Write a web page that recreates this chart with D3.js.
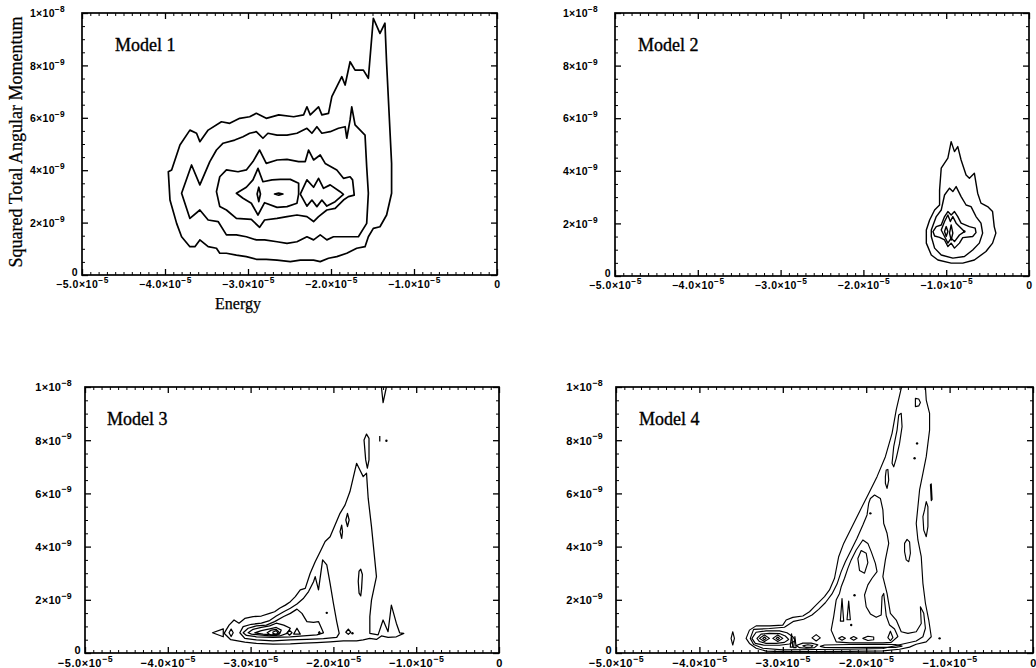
<!DOCTYPE html>
<html>
<head>
<meta charset="utf-8">
<script src="https://cdn.jsdelivr.net/npm/d3@7"></script>
<style>
  body { margin: 0; background: #fff; }
  .ticklab text { font-family: "Liberation Sans", Arial, sans-serif; font-weight: bold; fill: #000; }
  .serif { font-family: "Liberation Serif", "Times New Roman", serif; fill: #000; }
</style>
</head>
<body>
<div id="chart"></div>
<script>
// ---- axis ticks and labels ----
var energyTicks = [-5e-5, -4e-5, -3e-5, -2e-5, -1e-5, 0];
var energyMantissas = ["−5.0×10", "−4.0×10", "−3.0×10", "−2.0×10", "−1.0×10", "0"];
var energyExponents = ["−5", "−5", "−5", "−5", "−5", ""];
var momentumTicks = [0, 2e-9, 4e-9, 6e-9, 8e-9, 1e-8];
var momentumMantissas = ["0", "2×10", "4×10", "6×10", "8×10", "1×10"];
var momentumExponents = ["", "−9", "−9", "−9", "−9", "−8"];
var modelNames = ["Model 1", "Model 2", "Model 3", "Model 4"];

// ---- contour lines: [energy (1e-5), L^2 (1e-9)] ----
var model1Contours = [
  [[-3.96,3.94],[-3.92,4.01],[-3.82,4.96],[-3.70,5.53],[-3.62,5.41],[-3.58,5.09],[-3.48,5.53],[-3.32,5.85],[-3.22,5.79],[-3.10,5.98],[-2.98,6.04],[-2.90,6.17],[-2.78,5.98],[-2.63,6.11],[-2.45,6.04],[-2.33,6.11],[-2.29,6.42],[-2.25,6.11],[-2.15,6.42],[-2.11,6.11],[-2.03,6.17],[-1.99,6.81],[-1.87,7.57],[-1.83,7.25],[-1.77,8.14],[-1.71,7.82],[-1.61,7.82],[-1.55,7.51],[-1.49,9.80],[-1.41,9.22],[-1.35,9.61],[-1.33,8.08],[-1.27,4.26],[-1.27,3.12],[-1.33,2.29],[-1.41,1.84],[-1.49,1.78],[-1.55,1.46],[-1.59,1.08],[-1.69,1.02],[-1.81,0.83],[-1.93,0.70],[-2.03,0.64],[-2.13,0.51],[-2.21,0.57],[-2.37,0.57],[-2.49,0.51],[-2.65,0.57],[-2.78,0.60],[-2.90,0.60],[-3.02,0.70],[-3.14,0.76],[-3.26,0.83],[-3.34,0.83],[-3.38,1.02],[-3.48,1.08],[-3.58,1.34],[-3.64,1.08],[-3.70,1.08],[-3.80,1.46],[-3.86,1.97],[-3.94,2.86]],
  [[-3.80,3.12],[-3.68,4.20],[-3.58,3.44],[-3.46,4.33],[-3.38,4.77],[-3.30,5.03],[-3.16,5.15],[-3.06,5.28],[-2.98,5.41],[-2.90,5.47],[-2.82,5.22],[-2.76,5.41],[-2.65,5.34],[-2.53,5.34],[-2.41,5.41],[-2.29,5.60],[-2.23,5.41],[-2.17,5.66],[-2.11,5.41],[-2.01,5.47],[-1.91,5.60],[-1.83,5.66],[-1.81,5.22],[-1.77,5.92],[-1.75,6.42],[-1.71,5.73],[-1.59,5.34],[-1.57,4.13],[-1.55,3.12],[-1.57,1.97],[-1.67,1.46],[-1.81,1.46],[-1.97,1.46],[-2.05,1.34],[-2.13,1.53],[-2.21,1.34],[-2.29,1.46],[-2.41,1.27],[-2.53,1.21],[-2.65,1.27],[-2.80,1.34],[-2.90,1.34],[-3.02,1.46],[-3.14,1.53],[-3.26,1.53],[-3.36,2.04],[-3.48,2.10],[-3.58,2.48],[-3.70,2.16]],
  [[-3.38,3.18],[-3.34,3.75],[-3.26,4.01],[-3.12,3.94],[-3.02,4.01],[-2.94,4.33],[-2.86,4.77],[-2.78,4.26],[-2.65,4.39],[-2.53,4.41],[-2.39,4.33],[-2.31,4.33],[-2.27,4.77],[-2.21,4.39],[-2.13,4.58],[-2.07,4.26],[-1.93,4.01],[-1.85,3.69],[-1.77,3.75],[-1.74,3.63],[-1.72,3.05],[-1.79,2.99],[-1.85,2.86],[-1.95,2.54],[-2.05,2.48],[-2.15,2.23],[-2.21,2.04],[-2.29,2.23],[-2.41,2.29],[-2.53,2.23],[-2.65,2.16],[-2.80,2.10],[-2.86,1.82],[-2.96,2.12],[-3.14,2.16],[-3.26,2.48],[-3.34,2.61]],
  [[-3.14,3.12],[-3.02,3.35],[-2.94,3.63],[-2.88,4.07],[-2.82,3.56],[-2.71,3.63],[-2.61,3.65],[-2.49,3.65],[-2.39,3.50],[-2.39,3.09],[-2.41,2.74],[-2.53,2.61],[-2.65,2.58],[-2.80,2.76],[-2.88,2.29],[-2.96,2.74],[-3.06,2.93]],
  [[-2.37,3.09],[-2.29,3.63],[-2.21,3.35],[-2.15,3.69],[-2.09,3.31],[-2.01,3.44],[-1.89,3.18],[-1.85,3.08],[-1.95,2.80],[-2.05,2.63],[-2.11,2.86],[-2.17,2.61],[-2.23,2.86],[-2.29,2.63]],
  [[-2.89,3.09],[-2.87,3.35],[-2.85,3.09],[-2.87,2.80]],
  [[-2.68,3.09],[-2.63,3.13],[-2.58,3.09],[-2.63,3.05]]
];

var model2Contours = [
  [[-0.94,5.11],[-0.90,4.73],[-0.86,4.92],[-0.82,4.41],[-0.76,3.84],[-0.72,3.72],[-0.66,3.91],[-0.62,3.15],[-0.58,2.77],[-0.50,2.64],[-0.44,2.45],[-0.42,1.88],[-0.40,1.63],[-0.44,1.25],[-0.52,0.93],[-0.66,0.61],[-0.80,0.49],[-0.94,0.49],[-1.10,0.61],[-1.18,0.80],[-1.24,1.25],[-1.24,1.75],[-1.20,2.13],[-1.14,2.51],[-1.08,2.70],[-1.08,3.27],[-1.06,4.10],[-0.98,4.48]],
  [[-1.18,1.75],[-1.12,2.26],[-1.06,2.51],[-1.02,3.08],[-0.96,3.34],[-0.92,3.21],[-0.88,3.40],[-0.82,3.02],[-0.76,2.70],[-0.70,2.64],[-0.64,2.26],[-0.58,2.01],[-0.56,1.63],[-0.60,1.25],[-0.68,0.99],[-0.78,0.74],[-0.92,0.68],[-1.06,0.80],[-1.14,1.06],[-1.18,1.50]],
  [[-1.16,1.69],[-1.12,1.88],[-1.06,1.94],[-1.02,2.26],[-0.98,2.45],[-0.94,2.32],[-0.90,2.45],[-0.86,2.26],[-0.82,2.01],[-0.72,1.88],[-0.65,1.82],[-0.64,1.65],[-0.68,1.50],[-0.80,1.46],[-0.84,1.25],[-0.90,1.06],[-0.94,1.25],[-0.98,1.12],[-1.02,1.37],[-1.08,1.47],[-1.14,1.52]],
  [[-1.06,1.75],[-1.02,2.07],[-0.98,2.32],[-0.95,2.07],[-0.92,2.26],[-0.88,2.01],[-0.82,1.82],[-0.78,1.69],[-0.84,1.56],[-0.90,1.31],[-0.94,1.44],[-0.98,1.25],[-1.02,1.50]],
  [[-1.00,1.88],[-0.98,1.69],[-1.00,1.50],[-1.02,1.69]],
  [[-0.94,1.94],[-0.92,1.63],[-0.94,1.37],[-0.96,1.63]]
];
var model2Dots = [[-0.78,1.69]];

var model3Contours = [
  [[-3.32,0.74],[-3.26,1.05],[-3.20,1.24],[-3.14,1.12],[-3.07,1.30],[-2.97,1.37],[-2.87,1.39],[-2.77,1.49],[-2.71,1.55],[-2.65,1.68],[-2.58,1.80],[-2.52,1.93],[-2.46,2.12],[-2.40,2.37],[-2.34,2.43],[-2.28,3.00],[-2.22,3.43],[-2.16,3.81],[-2.10,4.19],[-2.04,4.37],[-1.98,4.81],[-1.92,5.25],[-1.86,5.56],[-1.80,6.07],[-1.72,7.13],[-1.68,6.88],[-1.64,6.63],[-1.60,6.76],[-1.58,5.82],[-1.54,4.75],[-1.48,2.87],[-1.54,1.99],[-1.56,1.37],[-1.56,0.74],[-1.46,0.68],[-1.40,1.24],[-1.34,0.80],[-1.30,1.80],[-1.24,1.12],[-1.20,0.76],[-1.15,0.74],[-1.24,0.61],[-1.34,0.59],[-1.42,0.64],[-1.48,0.51],[-1.56,0.55],[-1.64,0.49],[-1.72,0.46],[-1.88,0.46],[-2.04,0.42],[-2.20,0.39],[-2.36,0.37],[-2.52,0.34],[-2.73,0.33],[-2.93,0.36],[-3.07,0.41],[-3.24,0.50]],
  [[-3.13,0.76],[-3.09,0.99],[-2.99,1.08],[-2.87,1.12],[-2.77,1.22],[-2.69,1.39],[-2.60,1.55],[-2.52,1.68],[-2.44,1.84],[-2.36,2.06],[-2.30,2.31],[-2.24,2.68],[-2.22,2.87],[-2.18,2.37],[-2.13,3.50],[-2.08,3.31],[-2.04,2.62],[-2.00,1.87],[-1.96,1.18],[-1.93,0.74],[-1.96,0.59],[-2.12,0.54],[-2.32,0.51],[-2.52,0.49],[-2.73,0.46],[-2.93,0.49],[-3.07,0.55]],
  [[-3.09,0.76],[-3.03,0.93],[-2.93,1.02],[-2.81,1.05],[-2.71,1.18],[-2.60,1.37],[-2.52,1.49],[-2.44,1.65],[-2.38,1.49],[-2.32,1.18],[-2.24,1.15],[-2.18,1.18],[-2.12,0.76],[-2.20,0.68],[-2.36,0.64],[-2.52,0.61],[-2.73,0.59],[-2.93,0.61],[-3.05,0.66]],
  [[-3.03,0.76],[-2.97,0.89],[-2.87,0.96],[-2.77,1.02],[-2.69,1.12],[-2.60,1.05],[-2.52,0.93],[-2.56,0.74],[-2.65,0.64],[-2.77,0.64],[-2.89,0.68],[-2.99,0.71]],
  [[-2.95,0.76],[-2.87,0.84],[-2.77,0.91],[-2.69,0.96],[-2.63,0.86],[-2.65,0.71],[-2.75,0.68],[-2.85,0.71]],
  [[-2.80,0.76],[-2.75,0.86],[-2.69,0.89],[-2.65,0.76],[-2.69,0.66],[-2.75,0.66]],
  [[-2.73,0.79],[-2.69,0.84],[-2.67,0.76],[-2.69,0.70],[-2.73,0.74]],
  [[-3.46,0.76],[-3.33,0.91],[-3.33,0.61]],
  [[-3.26,0.76],[-3.235,0.90],[-3.21,0.76],[-3.235,0.62]],
  [[-2.56,0.76],[-2.53,0.85],[-2.50,0.76],[-2.53,0.67]],
  [[-2.48,0.71],[-2.44,0.93],[-2.40,0.71]],
  [[-2.18,0.76],[-2.17,0.80],[-2.16,0.76],[-2.17,0.72]],
  [[-1.85,5.00],[-1.83,5.25],[-1.81,5.00],[-1.83,4.75]],
  [[-1.92,4.56],[-1.90,4.81],[-1.89,4.56],[-1.90,4.31]],
  [[-1.70,2.70],[-1.69,3.08],[-1.67,3.15],[-1.65,2.95],[-1.66,2.40],[-1.67,2.15],[-1.69,2.25]],
  [[-1.85,0.78],[-1.82,0.90],[-1.79,0.78],[-1.82,0.70]],
  [[-1.63,8.01],[-1.60,8.23],[-1.57,8.07],[-1.57,7.26],[-1.59,6.95],[-1.61,7.26]]
];
var model3Open = [
  [[-1.42,10.0],[-1.40,9.41],[-1.36,10.0]],
  [[-1.44,8.16],[-1.44,7.95]]
];
var model3Dots = [[-2.08,1.51],[-1.77,0.74],[-1.36,7.98]];

var model4Contours = [
  [[-3.39,0.55],[-3.35,0.89],[-3.16,0.92],[-2.98,0.97],[-2.87,1.19],[-2.75,1.27],[-2.65,1.43],[-2.57,1.64],[-2.49,1.89],[-2.41,2.22],[-2.35,2.59],[-2.30,3.06],[-2.25,3.43],[-2.19,3.81],[-2.11,4.31],[-2.04,4.81],[-1.99,5.19],[-1.97,5.63],[-1.95,5.81],[-1.90,5.94],[-1.83,5.81],[-1.80,5.38],[-1.79,4.87],[-1.75,4.50],[-1.73,4.12],[-1.77,3.50],[-1.80,2.87],[-1.75,2.24],[-1.71,1.49],[-1.64,1.24],[-1.58,0.80],[-1.50,0.74],[-1.40,0.80],[-1.34,1.11],[-1.35,1.74],[-1.31,1.49],[-1.29,0.93],[-1.32,0.61],[-1.40,0.45],[-1.80,0.17],[-2.20,0.14],[-2.60,0.13],[-3.00,0.12],[-3.24,0.18],[-3.35,0.32]],
  [[-2.26,2.81],[-2.22,3.18],[-2.18,3.50],[-2.12,3.87],[-2.04,4.25],[-1.98,4.12],[-1.94,3.81],[-1.89,3.37],[-1.87,3.06],[-1.93,2.81],[-1.98,2.56],[-2.02,2.18],[-2.00,1.74],[-1.95,1.47],[-1.88,1.34],[-1.82,1.43],[-1.81,2.12],[-1.79,2.24],[-1.76,1.40],[-1.72,1.05],[-1.66,0.90],[-1.62,0.62],[-1.70,0.40],[-1.80,0.38],[-2.00,0.38],[-2.20,0.38],[-2.36,0.42],[-2.42,0.86],[-2.39,1.37],[-2.36,1.99],[-2.32,2.24],[-2.30,2.49]],
  [[-3.37,0.55],[-3.32,0.78],[-3.20,0.83],[-3.04,0.83],[-2.95,0.76],[-2.88,0.61],[-2.85,0.46],[-2.92,0.34],[-3.04,0.29],[-3.22,0.29],[-3.33,0.36]],
  [[-3.31,0.55],[-3.26,0.71],[-3.16,0.74],[-3.04,0.73],[-2.97,0.64],[-2.93,0.51],[-2.98,0.40],[-3.08,0.36],[-3.20,0.36],[-3.28,0.43]],
  [[-3.28,0.55],[-3.22,0.68],[-3.16,0.55],[-3.22,0.43]],
  [[-3.12,0.55],[-3.06,0.68],[-3.00,0.55],[-3.06,0.43]],
  [[-3.24,0.55],[-3.22,0.60],[-3.20,0.55],[-3.22,0.50]],
  [[-3.08,0.55],[-3.06,0.60],[-3.04,0.55],[-3.06,0.50]],
  [[-2.84,0.28],[-2.76,0.37],[-2.66,0.37],[-2.58,0.31],[-2.62,0.20],[-2.72,0.18],[-2.80,0.20]],
  [[-2.76,0.27],[-2.70,0.31],[-2.64,0.28],[-2.66,0.22],[-2.72,0.21]],
  [[-2.65,0.57],[-2.60,0.69],[-2.55,0.57],[-2.60,0.45]],
  [[-2.50,0.30],[-2.20,0.32],[-1.90,0.33],[-1.65,0.32],[-1.57,0.26],[-1.65,0.21],[-1.90,0.21],[-2.20,0.20],[-2.50,0.21],[-2.55,0.25]],
  [[-2.33,0.55],[-2.29,0.62],[-2.25,0.55],[-2.29,0.48]],
  [[-2.19,0.55],[-2.15,0.62],[-2.11,0.55],[-2.15,0.48]],
  [[-2.04,0.55],[-1.98,0.63],[-1.91,0.60],[-1.91,0.50],[-1.98,0.47]],
  [[-1.74,0.58],[-1.71,0.82],[-1.68,0.58],[-1.71,0.46]],
  [[-3.62,0.55],[-3.60,0.80],[-3.58,0.55],[-3.60,0.30]],
  [[-2.31,1.20],[-2.29,2.05],[-2.27,1.20]],
  [[-2.23,1.25],[-2.21,1.95],[-2.19,1.25]],
  [[-2.91,0.22],[-2.895,0.72],[-2.88,0.22]],
  [[-2.87,0.20],[-2.855,0.62],[-2.84,0.20]],
  [[-2.10,3.55],[-2.06,3.85],[-2.00,3.75],[-1.98,3.40],[-2.02,3.00],[-2.08,3.10]],
  [[-1.54,4.12],[-1.51,4.27],[-1.48,4.18],[-1.47,3.75],[-1.49,3.43],[-1.52,3.50],[-1.54,3.81]],
  [[-1.30,5.38],[-1.28,5.69],[-1.26,5.50],[-1.26,4.75],[-1.28,4.37],[-1.31,4.62],[-1.32,5.13]],
  [[-1.23,6.33],[-1.22,6.36],[-1.21,5.77],[-1.22,5.73]],
  [[-1.61,8.95],[-1.58,9.01],[-1.57,8.51],[-1.60,7.88],[-1.64,7.32],[-1.67,7.00],[-1.69,7.13],[-1.67,7.76],[-1.63,8.38]],
  [[-1.76,6.88],[-1.74,6.90],[-1.73,6.50],[-1.75,6.19],[-1.77,6.38],[-1.77,6.63]],
  [[-1.41,9.57],[-1.37,9.55],[-1.35,9.42],[-1.37,9.29],[-1.41,9.26]]
];
var model4Open = [
  [[-1.57,10.0],[-1.58,9.95],[-1.64,9.14],[-1.69,8.26],[-1.77,7.38],[-1.87,6.63],[-1.97,6.00],[-2.07,5.38],[-2.17,4.75],[-2.27,4.12],[-2.33,3.62],[-2.38,2.81],[-2.44,2.37],[-2.50,2.12],[-2.56,1.93],[-2.62,1.74],[-2.68,1.55],[-2.76,1.39],[-2.88,1.34],[-2.96,1.24],[-3.00,1.05],[-3.16,1.02],[-3.32,1.02],[-3.40,0.86],[-3.44,0.55],[-3.40,0.36],[-3.32,0.18],[-3.20,0.07],[-3.00,0.05],[-2.60,0.05],[-2.20,0.06],[-1.80,0.08],[-1.60,0.14],[-1.48,0.22],[-1.40,0.33],[-1.28,0.42],[-1.22,0.61],[-1.25,1.24],[-1.29,1.87],[-1.32,2.62],[-1.34,3.62],[-1.38,4.25],[-1.40,4.87],[-1.38,5.50],[-1.36,6.13],[-1.32,6.75],[-1.28,7.38],[-1.26,7.88],[-1.24,8.38],[-1.24,9.01],[-1.28,9.51],[-1.29,10.0]]
];
var model4Dots = [[-1.39,7.88],[-1.42,7.32],[-1.95,5.25],[-2.14,2.17],[-2.18,1.05],[-1.12,0.55]];

// ---- page layout ----
var panels = [
  {name: modelNames[0], rings: model1Contours, open: [], dots: [], left: 82, top: 13, right: 497, bottom: 275, nameDx: 33, font: 10.5, xLab: 13, yGap: 17, lw: 1.7},
  {name: modelNames[1], rings: model2Contours, open: [], dots: model2Dots, left: 615, top: 13, right: 1029, bottom: 276, nameDx: 23, font: 10.5, xLab: 13, yGap: 17, lw: 1.4},
  {name: modelNames[2], rings: model3Contours, open: model3Open, dots: model3Dots, left: 85, top: 387, right: 499, bottom: 653, nameDx: 22, font: 11, xLab: 14, yGap: 13, lw: 1.25},
  {name: modelNames[3], rings: model4Contours, open: model4Open, dots: model4Dots, left: 616, top: 387, right: 1033, bottom: 653, nameDx: 23, font: 11, xLab: 14, yGap: 13, lw: 1.15}
];

var svg = d3.select("#chart")
  .append("svg")
    .attr("width", 1036)
    .attr("height", 668);

var minorE = d3.range(-50, 1).filter(function(i) { return i % 10 !== 0; }).map(function(i) { return i * 1e-6; });
var minorL = d3.range(0, 21).filter(function(i) { return i % 4 !== 0; }).map(function(i) { return i * 5e-10; });

// put mantissa + raised exponent into the tick texts of an axis
function labelTicks(sel, ticks, mant, exps) {
  sel.selectAll(".tick text").each(function(d) {
    var i = ticks.indexOf(d);
    var t = d3.select(this).text(mant[i]);
    if (exps[i]) {
      t.append("tspan").attr("dy", "-0.6em").attr("font-size", "0.8em").text(exps[i]);
    }
  });
}

panels.forEach(function(p, k) {
  var w = p.right - p.left,
      h = p.bottom - p.top;

  var x = d3.scaleLinear().domain([-5e-5, 0]).range([0, w]);
  var y = d3.scaleLinear().domain([0, 1e-8]).range([h, 0]);

  var g = svg.append("g")
    .attr("transform", "translate(" + p.left + "," + p.top + ")");

  g.append("clipPath").attr("id", "clip" + k)
    .append("rect").attr("width", w).attr("height", h);

  var closed = d3.line()
    .x(function(d) { return x(d[0] * 1e-5); })
    .y(function(d) { return y(d[1] * 1e-9); })
    .curve(d3.curveLinearClosed);
  var open = d3.line()
    .x(function(d) { return x(d[0] * 1e-5); })
    .y(function(d) { return y(d[1] * 1e-9); });

  var plot = g.append("g").attr("clip-path", "url(#clip" + k + ")");

  plot.selectAll("path.ring")
    .data(p.rings)
    .join("path")
      .attr("class", "ring")
      .attr("d", closed)
      .attr("fill", "none")
      .attr("stroke", "#000")
      .attr("stroke-width", p.lw)
      .attr("stroke-linejoin", "round");

  plot.selectAll("path.open")
    .data(p.open)
    .join("path")
      .attr("class", "open")
      .attr("d", open)
      .attr("fill", "none")
      .attr("stroke", "#000")
      .attr("stroke-width", p.lw)
      .attr("stroke-linejoin", "round");

  plot.selectAll("circle.dot")
    .data(p.dots)
    .join("circle")
      .attr("class", "dot")
      .attr("cx", function(d) { return x(d[0] * 1e-5); })
      .attr("cy", function(d) { return y(d[1] * 1e-9); })
      .attr("r", 1.2)
      .attr("fill", "#000");

  // ticks on all four sides, pointing inward
  var axes = [
    {ax: d3.axisBottom, s: x, t: "translate(0," + h + ")"},
    {ax: d3.axisTop, s: x, t: "translate(0,0)"},
    {ax: d3.axisLeft, s: y, t: "translate(0,0)"},
    {ax: d3.axisRight, s: y, t: "translate(" + w + ",0)"}
  ];
  axes.forEach(function(a, j) {
    var majors = a.s === x ? energyTicks : momentumTicks;
    var minors = a.s === x ? minorE : minorL;
    g.append("g").attr("transform", a.t)
      .call(a.ax(a.s).tickValues(minors).tickSize(-3).tickFormat(""))
      .call(function(s) { s.select(".domain").remove(); });
    var mg = g.append("g").attr("transform", a.t)
      .attr("class", "ticklab")
      .call(a.ax(a.s).tickValues(majors).tickSize(-6).tickPadding(4))
      .call(function(s) { s.select(".domain").remove(); });
    mg.attr("font-family", null).attr("font-size", null);
    mg.selectAll("line").attr("stroke-width", 1.3);
    if (j === 0) {
      labelTicks(mg, energyTicks, energyMantissas, energyExponents);
      mg.selectAll(".tick text")
        .attr("y", p.xLab).attr("dy", 0)
        .attr("font-size", p.font)
        .attr("letter-spacing", p.font * 0.05);
    } else if (j === 2) {
      labelTicks(mg, momentumTicks, momentumMantissas, momentumExponents);
      mg.selectAll(".tick text")
        .attr("x", function(d) { return d === 0 ? -4 : -p.yGap; })
        .attr("dy", function(d) { return d === 0 ? "0em" : "0.35em"; })
        .attr("font-size", p.font)
        .attr("letter-spacing", p.font * 0.03);
    } else {
      mg.selectAll(".tick text").remove();
    }
  });

  g.append("rect")
    .attr("width", w)
    .attr("height", h)
    .attr("fill", "none")
    .attr("stroke", "#000")
    .attr("stroke-width", 1.7);

  g.append("text")
    .attr("class", "serif")
    .attr("x", p.nameDx)
    .attr("y", 38)
    .attr("font-size", 18)
    .attr("stroke", "#000")
    .attr("stroke-width", 0.35)
    .text(p.name);
});

// axis titles (only once, beside Model 1)
svg.append("text")
  .attr("class", "serif")
  .attr("text-anchor", "middle")
  .attr("transform", "translate(22,142) rotate(-90)")
  .attr("font-size", 18)
  .attr("stroke", "#000")
  .attr("stroke-width", 0.25)
  .text("Squared Total Angular Momentum");

svg.append("text")
  .attr("class", "serif")
  .attr("text-anchor", "middle")
  .attr("x", 238)
  .attr("y", 309)
  .attr("font-size", 16)
  .attr("stroke", "#000")
  .attr("stroke-width", 0.25)
  .text("Energy");
</script>
</body>
</html>
